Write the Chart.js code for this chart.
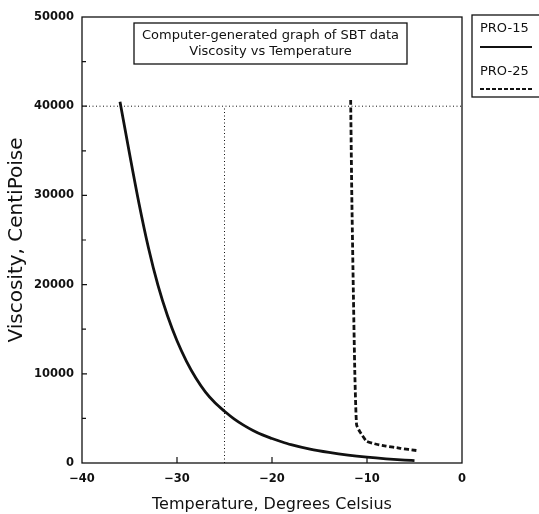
<!DOCTYPE html>
<html>
<head>
<meta charset="utf-8">
<script src="https://cdn.jsdelivr.net/npm/chart.js@4.4.1/dist/chart.umd.min.js"></script>
<style>
  html, body { margin: 0; padding: 0; background: #fff; }
  #grafica { display: block; }
</style>
</head>
<body>
<canvas id="grafica" width="539" height="514"></canvas>
<script>
"use strict";

// PRO-15 (solid)
const tempPro15 = [-36, -35, -34, -33, -32, -31, -30, -29, -28, -27, -26, -25, -24, -23, -22, -21, -20, -19, -18, -16, -14, -12, -10, -8, -6, -5];
const viscPro15 = [40500, 34700, 29100, 24100, 19900, 16500, 13700, 11400, 9500, 7950, 6750, 5800, 4950, 4250, 3650, 3150, 2750, 2380, 2050, 1550, 1180, 880, 650, 470, 330, 270];

// PRO-25 (dashed)
const tempPro25 = [-11.72, -11.6, -11.44, -11.28, -11.1, -10.75, -10.05, -9.0, -8.0, -6.5, -4.8];
const viscPro25 = [40700, 30000, 19400, 10000, 4300, 3500, 2450, 2100, 1900, 1650, 1400];

// dotted reference lines
const refHorizX = [-40, 0];
const refHorizY = [40000, 40000];
const refVertX  = [-25, -25];
const refVertY  = [0, 40000];

const xTicks = [-40, -30, -20, -10, 0];
const yTicks = [0, 10000, 20000, 30000, 40000, 50000];
const yMinorTicks = [5000, 15000, 25000, 35000, 45000];

const seriesNames = ["PRO-15", "PRO-25"];
const titleLines = ["Computer-generated graph of SBT data", "Viscosity vs Temperature"];

const ink = "#111";
const fontFam = "'DejaVu Sans', 'Liberation Sans', sans-serif";

function toPoints(xs, ys) {
    return xs.map((x, i) => ({ x: x, y: ys[i] }));
}

// frame, inward ticks, title box and legend box
const marcoPlugin = {
    id: "marco",
    afterDraw(chart) {
        const ctx = chart.ctx;
        const a = chart.chartArea;
        const sx = chart.scales.x;
        const sy = chart.scales.y;

        ctx.save();
        ctx.strokeStyle = ink;
        ctx.lineWidth = 1.3;
        ctx.strokeRect(a.left, a.top, a.right - a.left, a.bottom - a.top);

        ctx.lineWidth = 1.2;
        ctx.beginPath();
        yTicks.slice(1, -1).forEach(v => {
            const py = sy.getPixelForValue(v);
            ctx.moveTo(a.left, py);
            ctx.lineTo(a.left + 5, py);
        });
        yMinorTicks.forEach(v => {
            const py = sy.getPixelForValue(v);
            ctx.moveTo(a.left, py);
            ctx.lineTo(a.left + 4, py);
        });
        xTicks.slice(1, -1).forEach(v => {
            const px = sx.getPixelForValue(v);
            ctx.moveTo(px, a.bottom);
            ctx.lineTo(px, a.bottom - 6);
        });
        ctx.stroke();

        // title box
        ctx.lineWidth = 1.3;
        ctx.strokeRect(134, 23, 273, 41);
        ctx.fillStyle = ink;
        ctx.font = "13px " + fontFam;
        ctx.textAlign = "center";
        ctx.textBaseline = "middle";
        ctx.fillText(titleLines[0], 270.5, 36);
        ctx.fillText(titleLines[1], 270.5, 52);

        // legend box
        ctx.strokeRect(472, 15, 70, 82);
        ctx.font = "13px " + fontFam;
        ctx.textAlign = "left";
        ctx.fillText(seriesNames[0], 480, 29);
        ctx.fillText(seriesNames[1], 480, 72);
        ctx.lineWidth = 2;
        ctx.beginPath();
        ctx.moveTo(480, 47);
        ctx.lineTo(532, 47);
        ctx.stroke();
        ctx.setLineDash([4, 2]);
        ctx.beginPath();
        ctx.moveTo(480, 89);
        ctx.lineTo(532, 89);
        ctx.stroke();
        ctx.restore();
    }
};

new Chart(document.getElementById("grafica"), {
    type: "line",
    data: {
        datasets: [
            {
                label: seriesNames[0],
                data: toPoints(tempPro15, viscPro15),
                borderColor: ink,
                borderWidth: 2.8,
                pointRadius: 0,
                cubicInterpolationMode: "monotone",
                fill: false
            },
            {
                label: seriesNames[1],
                data: toPoints(tempPro25, viscPro25),
                borderColor: ink,
                borderWidth: 2.8,
                borderDash: [5, 2.5],
                pointRadius: 0,
                tension: 0.15,
                fill: false
            },
            {
                label: "ref40000",
                data: toPoints(refHorizX, refHorizY),
                borderColor: ink,
                borderWidth: 1,
                borderDash: [1, 2.5],
                pointRadius: 0
            },
            {
                label: "ref-25",
                data: toPoints(refVertX, refVertY),
                borderColor: ink,
                borderWidth: 1,
                borderDash: [1, 2.5],
                pointRadius: 0
            }
        ]
    },
    options: {
        responsive: false,
        animation: false,
        layout: { padding: { top: 17, right: 77, left: 0, bottom: 0 } },
        plugins: {
            legend: { display: false },
            tooltip: { enabled: false }
        },
        scales: {
            x: {
                type: "linear",
                min: -40,
                max: 0,
                afterBuildTicks: s => { s.ticks = xTicks.map(v => ({ value: v })); },
                afterFit: s => { s.height = 51; },
                grid: { display: false, drawTicks: false },
                border: { display: false },
                ticks: {
                    color: ink,
                    padding: 9,
                    maxRotation: 0,
                    font: { family: fontFam, size: 11.5, weight: "bold" },
                    callback: v => String(v).replace("-", "\u2212")
                },
                title: {
                    display: true,
                    text: "Temperature, Degrees Celsius",
                    color: ink,
                    font: { family: fontFam, size: 16 },
                    padding: { top: 0, bottom: 0 }
                }
            },
            y: {
                type: "linear",
                min: 0,
                max: 50000,
                afterBuildTicks: s => { s.ticks = yTicks.map(v => ({ value: v })); },
                afterFit: s => { s.width = 82; },
                grid: { display: false, drawTicks: false },
                border: { display: false },
                ticks: {
                    color: ink,
                    padding: 8,
                    font: { family: fontFam, size: 11.5, weight: "bold" },
                    callback: v => String(v)
                },
                title: {
                    display: true,
                    text: "Viscosity, CentiPoise",
                    color: ink,
                    font: { family: fontFam, size: 20 },
                    padding: { top: 5, bottom: 0 }
                }
            }
        }
    },
    plugins: [marcoPlugin]
});
</script>
</body>
</html>
